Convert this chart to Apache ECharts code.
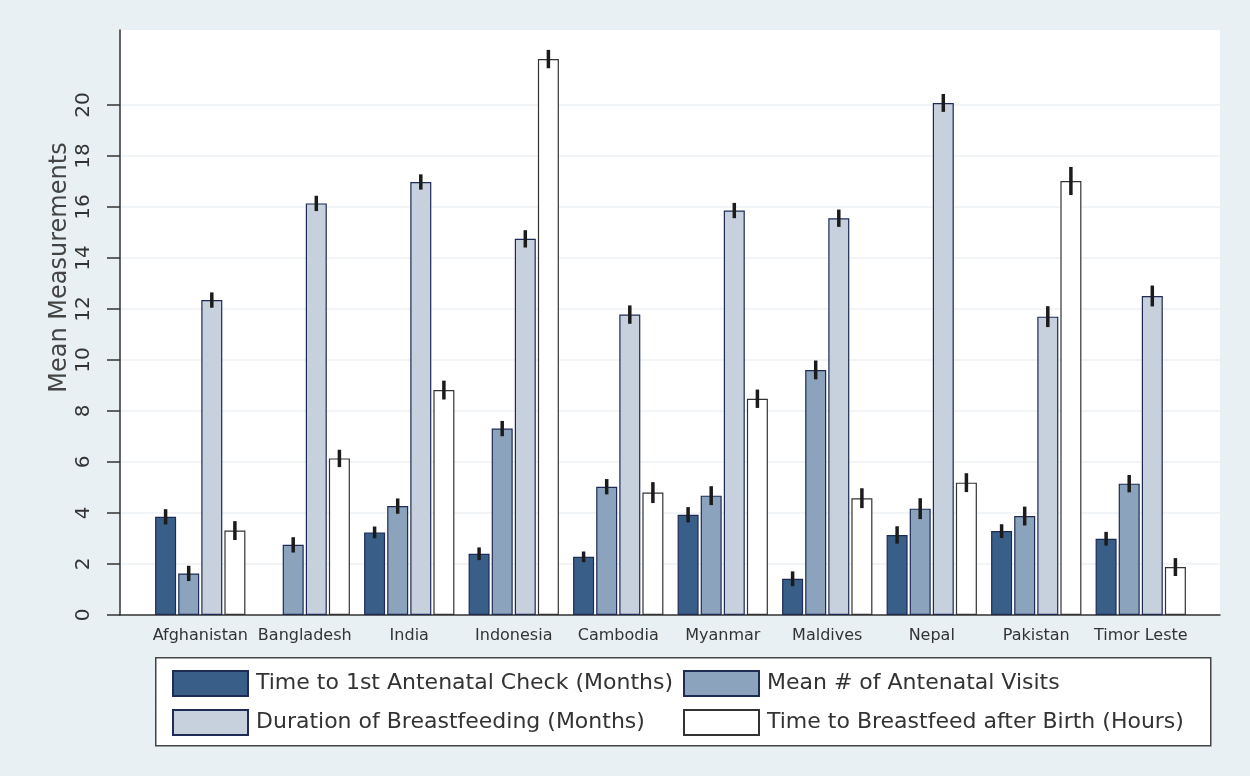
<!DOCTYPE html>
<html>
<head>
<meta charset="utf-8">
<script src="https://cdn.jsdelivr.net/npm/echarts@6/dist/echarts.min.js"></script>
<style>
  html, body { margin: 0; padding: 0; background: #e9f0f3; }
  #chart { width: 1250px; height: 776px; }
</style>
</head>
<body>
<div id="chart"></div>
<script>
// countries on the x axis
var categories = ['Afghanistan', 'Bangladesh', 'India', 'Indonesia', 'Cambodia',
                  'Myanmar', 'Maldives', 'Nepal', 'Pakistan', 'Timor Leste'];

// mean values
var checkMonths = [3.85, null, 3.24, 2.40, 2.28, 3.93, 1.42, 3.14, 3.29, 2.99];
var visitCount = [1.63, 2.75, 4.27, 7.31, 5.03, 4.68, 9.61, 4.17, 3.88, 5.15];
var feedMonths = [12.35, 16.14, 16.98, 14.75, 11.78, 15.86, 15.56, 20.08, 11.70, 12.51];
var feedHours = [3.31, 6.14, 8.82, 21.80, 4.80, 8.48, 4.58, 5.19, 17.02, 1.88];

// half length of the error bars
var checkErr = [0.30, null, 0.23, 0.25, 0.21, 0.30, 0.29, 0.34, 0.27, 0.27];
var visitErr = [0.30, 0.30, 0.30, 0.30, 0.30, 0.37, 0.37, 0.41, 0.37, 0.34];
var feedMonthsErr = [0.30, 0.30, 0.30, 0.34, 0.36, 0.30, 0.34, 0.35, 0.41, 0.41];
var feedHoursErr = [0.37, 0.34, 0.37, 0.36, 0.41, 0.36, 0.39, 0.37, 0.55, 0.35];

var names = ['Time to 1st Antenatal Check (Months)', 'Mean # of Antenatal Visits',
             'Duration of Breastfeeding (Months)', 'Time to Breastfeed after Birth (Hours)'];

// labelled y ticks: 0 to 20 by 2, the plot itself runs a bit higher
var yTickMax = 20;
var yTickStep = 2;
var yTop = 22.94;

var BAR_W = 21;
var STEP = BAR_W * 1.1;
var font = 'DejaVu Sans';

var values = [checkMonths, visitCount, feedMonths, feedHours];
var errors = [checkErr, visitErr, feedMonthsErr, feedHoursErr];
var fills = ['#395f88', '#8ca3bd', '#c7d1de', '#ffffff'];
var borders = ['#1d2b55', '#1d2b55', '#1d2b55', '#333333'];

var series = [];
values.forEach(function(vals, k) {
    series.push({
        name: names[k],
        type: 'bar',
        xAxisIndex: 1,
        yAxisIndex: 1,
        barWidth: BAR_W,
        barGap: '10%',
        data: vals,
        itemStyle: { color: fills[k], borderColor: borders[k], borderWidth: 1.2 }
    });
});

// error bars, one custom series per measure
values.forEach(function(vals, k) {
    var errData = [];
    vals.forEach(function(v, i) {
        if (v !== null) errData.push([i, v - errors[k][i], v + errors[k][i]]);
    });
    var offset = (k - 1.5) * STEP;
    series.push({
        type: 'custom',
        xAxisIndex: 1,
        yAxisIndex: 1,
        z: 5,
        data: errData,
        renderItem: function(params, api) {
            var lo = api.coord([api.value(0), api.value(1)]);
            var hi = api.coord([api.value(0), api.value(2)]);
            var x = lo[0] + offset;
            return {
                type: 'line',
                shape: { x1: x, y1: lo[1], x2: x, y2: hi[1] },
                style: { stroke: '#1b1b1b', lineWidth: 3.5 }
            };
        }
    });
});

var chart = echarts.init(document.getElementById('chart'));

var legendText = { fontFamily: font, fontSize: 22, color: '#333', padding: [0, 0, 0, 3] };

var option = {
    backgroundColor: '#e9f0f3',
    animation: false,
    graphic: [{
        type: 'rect',
        left: 155, top: 657,
        shape: { width: 1055, height: 88 },
        style: { fill: '#ffffff', stroke: '#444', lineWidth: 1.5 },
        z: -1
    }],
    legend: [{
        data: [names[0], names[2]],
        orient: 'vertical',
        left: 172, top: 670,
        padding: 0,
        itemWidth: 75, itemHeight: 25, itemGap: 12,
        icon: 'rect',
        textStyle: legendText
    }, {
        data: [names[1], names[3]],
        orient: 'vertical',
        left: 683, top: 670,
        padding: 0,
        itemWidth: 75, itemHeight: 25, itemGap: 12,
        icon: 'rect',
        textStyle: legendText
    }],
    grid: [
        // white plot area with both axis lines
        { left: 120, right: 30, top: 30, bottom: 161, show: true, backgroundColor: '#ffffff', borderWidth: 0 },
        // bars
        { left: 148, right: 57, top: 30, bottom: 161 },
        // ticks, labels and grid lines up to 20
        { left: 120, right: 30, top: 105, bottom: 161 }
    ],
    xAxis: [{
        gridIndex: 0,
        type: 'value', min: 0, max: 1,
        axisLine: { show: true, onZero: false, lineStyle: { color: '#333', width: 1.5 } },
        axisTick: { show: false }, axisLabel: { show: false }, splitLine: { show: false }
    }, {
        gridIndex: 1,
        type: 'category',
        data: categories,
        axisLine: { show: false }, axisTick: { show: false },
        axisLabel: { interval: 0, margin: 13, fontFamily: font, fontSize: 16, color: '#333' }
    }, {
        gridIndex: 2,
        type: 'value', min: 0, max: 1, show: false
    }],
    yAxis: [{
        gridIndex: 0,
        type: 'value', min: 0, max: yTop,
        name: 'Mean Measurements',
        nameLocation: 'middle',
        nameGap: 48,
        nameTextStyle: { fontFamily: font, fontSize: 24, color: '#444', padding: [0, 0, 0, 110] },
        axisLine: { show: true, lineStyle: { color: '#333', width: 1.5 } },
        axisTick: { show: false }, axisLabel: { show: false }, splitLine: { show: false }
    }, {
        gridIndex: 1,
        type: 'value', min: 0, max: yTop,
        axisLine: { show: false }, axisTick: { show: false },
        axisLabel: { show: false }, splitLine: { show: false }
    }, {
        gridIndex: 2,
        type: 'value', min: 0, max: yTickMax, interval: yTickStep,
        axisLine: { show: false },
        axisTick: { show: true, length: 13, lineStyle: { color: '#333', width: 1.5 } },
        axisLabel: { rotate: 90, margin: 26, fontFamily: font, fontSize: 20, color: '#333' },
        splitLine: { show: true, lineStyle: { color: '#eef2f4', width: 1.5 } }
    }],
    series: series
};

chart.setOption(option);
</script>
</body>
</html>
